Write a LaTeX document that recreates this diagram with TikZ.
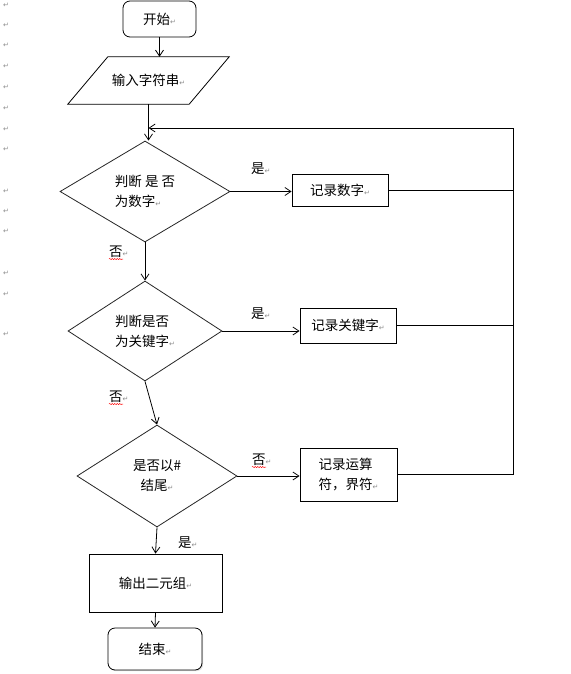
\documentclass[tikz,border=0pt]{standalone}
\usepackage{fontspec}
\setmainfont{Noto Sans CJK SC}
\newfontfamily\retfont{DejaVu Sans}
\usetikzlibrary{shapes.geometric,arrows.meta,shadows,decorations.pathmorphing}
\newcommand\rmk{{\retfont\fontsize{7}{7}\selectfont\textcolor{black!45}{↵}}}
\begin{document}
\begin{tikzpicture}[x=1pt,y=-1pt,
  font=\fontsize{13.5}{20}\selectfont,
  line/.style={draw=black, line width=0.8pt},
  arr/.style={line, -{Straight Barb[length=6pt,width=8pt]}},
  term/.style={draw, rounded corners=7pt, inner sep=0pt, line width=0.8pt},
  shad/.style={drop shadow={shadow xshift=1.2pt,shadow yshift=-1.2pt,opacity=0.25}},
  proc/.style={draw, fill=white, inner sep=0pt, line width=0.8pt, shad},
  dec/.style={diamond, draw=black!85, aspect=1.7, inner sep=0pt, line width=0.8pt, align=left},
  lbl/.style={anchor=west, inner sep=0pt},
  retm/.style={font=\retfont\fontsize{7}{7}\selectfont, text=black!45, inner sep=0pt},
  squig/.style={red, line width=0.5pt, decorate, decoration={snake,amplitude=0.6pt,segment length=2.5pt}}
]
\useasboundingbox (0,0) rectangle (570,674);
\fill[white] (0,0) rectangle (570,674);

% margin paragraph marks
\foreach \yy [count=\i] in {5,25,45,66,87,108,129,149,191,211,231,273,294,334}
  \node[retm] (m\i) at (6,\yy) {↵};

% nodes
\node[term, minimum width=73pt, minimum height=36pt] (start) at (159.5,19) {开始\rmk};
\node[inner sep=0pt, minimum width=121pt, minimum height=47pt] (inp) at (148.5,80.5) {输入字符串\rmk};
\draw[line] ([xshift=20pt]inp.north west) -- ([xshift=20pt]inp.north east)
  -- ([xshift=-20pt]inp.south east) -- ([xshift=-20pt]inp.south west) -- cycle;

\node[dec, minimum width=170pt, minimum height=101pt] (d1) at (145,191.5) {判断 是 否\\为数字\rmk};
\node[dec, minimum width=154pt, minimum height=100pt] (d2) at (145,331) {判断是否\\为关键字\rmk};
\node[dec, align=center, minimum width=160pt, minimum height=102pt] (d3) at (157,476) {是否以\#\\结尾\rmk};

\node[proc, minimum width=96pt, minimum height=32pt] (b1) at (340,190) {记录数字\rmk};
\node[proc, minimum width=96pt, minimum height=35pt] (b2) at (348,325.5) {记录关键字\rmk};
\node[proc, minimum width=97pt, minimum height=53pt, align=left] (b3) at (348.5,474.5) {记录运算\\符，界符\rmk};
\node[proc, minimum width=133pt, minimum height=58pt] (out) at (155.5,583) {输出二元组\rmk};
\node[term, fill=white, shad, minimum width=94pt, minimum height=42pt] (end) at (155,649) {结束\rmk};

\coordinate (loopTR) at (513,128);

% connectors
\draw[arr] (start.south) -- (start.south |- inp.north);
\draw[arr] (inp.south) -- (inp.south |- d1.north);
\draw[arr] (b3.east) -| (loopTR) -- (inp.south |- loopTR);
\draw[line] (b1.east) -- (b1.east -| loopTR);
\draw[line] (b2.east) -- (b2.east -| loopTR);
\draw[arr] (d1.east) -- (d1.east -| b1.west);
\draw[arr] (d2.east) -- (d2.east -| b2.west);
\draw[arr] (d3.east) -- (d3.east -| b3.west);
\draw[arr] (d1.south) -- (d2.north);
\draw[arr] (d2.south) -- (d3.north);
\draw[arr] (d3.south) -- (out.north);
\draw[arr] (out.south) -- (end.north);

% labels
\node[lbl] (y1) at (251,169) {是\rmk};
\node[lbl] (n1) at (109,252) {否\rmk};
\node[lbl] (y2) at (251,314) {是\rmk};
\node[lbl] (n2) at (109,397) {否\rmk};
\node[lbl] (n3) at (252,460) {否\rmk};
\node[lbl] (y3) at (178,543) {是\rmk};
\draw[squig] ([yshift=-1pt]n1.south west) -- ++(14,0);
\draw[squig] ([yshift=-1pt]n2.south west) -- ++(14,0);
\draw[squig] ([yshift=-1pt]n3.south west) -- ++(14,0);
\end{tikzpicture}
\end{document}
